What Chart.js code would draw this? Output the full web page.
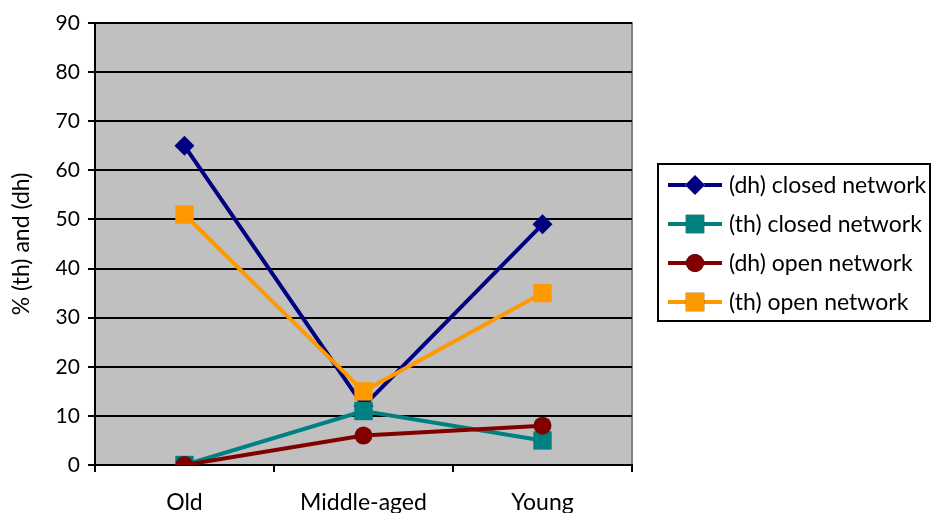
<!DOCTYPE html>
<html>
<head>
<meta charset="utf-8">
<script src="https://cdn.jsdelivr.net/npm/chart.js@4/dist/chart.umd.min.js"></script>
<style>
  html, body { margin: 0; padding: 0; background: #ffffff; }
  #wrap { position: relative; width: 932px; height: 513px; }
</style>
</head>
<body>
<div id="wrap"><canvas id="c" width="932" height="513"></canvas></div>
<script>
// Age groups along the x axis
const categories = ['Old', 'Middle-aged', 'Young'];

// Percentages per series
const dhClosed = [65, 12, 49];
const thClosed = [0, 11, 5];
const dhOpen   = [0, 6, 8];
const thOpen   = [51, 15, 35];

const seriesNames = ['(dh) closed network', '(th) closed network', '(dh) open network', '(th) open network'];

const FONT = 'Lato, "Open Sans", sans-serif';
const TEXT_SIZE = 23;
const NUM_SIZE = 21;

// Grey plot area with a grey frame
const plotBackground = {
  id: 'plotBackground',
  beforeDraw(chart) {
    const { ctx, chartArea: a } = chart;
    ctx.save();
    ctx.fillStyle = '#c0c0c0';
    ctx.fillRect(a.left, a.top, a.right - a.left, a.bottom - a.top);
    ctx.strokeStyle = '#808080';
    ctx.lineWidth = 2;
    ctx.strokeRect(a.left, a.top, a.right - a.left, a.bottom - a.top);
    ctx.restore();
  }
};

// Boxed legend on the right: line sample with the series marker
const boxedLegend = {
  id: 'boxedLegend',
  afterDraw(chart) {
    const { ctx } = chart;
    const x0 = 658, y0 = 164, w = 272, h = 157;
    ctx.save();
    ctx.fillStyle = '#ffffff';
    ctx.fillRect(x0, y0, w, h);
    ctx.strokeStyle = '#000000';
    ctx.lineWidth = 2;
    ctx.strokeRect(x0, y0, w, h);
    const rowH = 39, firstY = 185;
    chart.data.datasets.forEach((ds, i) => {
      const y = firstY + i * rowH;
      ctx.strokeStyle = ds.borderColor;
      ctx.lineWidth = ds.borderWidth;
      ctx.beginPath();
      ctx.moveTo(668, y);
      ctx.lineTo(722, y);
      ctx.stroke();
      Chart.helpers.drawPoint(ctx, {
        pointStyle: ds.pointStyle,
        radius: ds.pointRadius,
        borderWidth: 0
      }, 695, y);
      ctx.fillStyle = ds.pointBackgroundColor;
      ctx.fill();
      ctx.fillStyle = '#000000';
      ctx.font = TEXT_SIZE + 'px ' + FONT;
      ctx.textBaseline = 'middle';
      ctx.textAlign = 'left';
      ctx.fillText(ds.label, 729, y + 1);
    });
    ctx.restore();
  }
};

function series(label, data, color, style, radius, order) {
  return {
    label, data, order,
    borderColor: color,
    backgroundColor: color,
    pointBackgroundColor: color,
    pointBorderColor: color,
    pointBorderWidth: 0,
    borderWidth: 4,
    pointStyle: style,
    pointRadius: radius,
    pointHoverRadius: radius,
    tension: 0
  };
}

new Chart(document.getElementById('c'), {
  type: 'line',
  data: {
    labels: categories,
    datasets: [
      series(seriesNames[0], dhClosed, '#000080', 'rectRot', 10, 4),
      series(seriesNames[1], thClosed, '#008080', 'rect', 13, 3),
      series(seriesNames[2], dhOpen, '#800000', 'circle', 9, 2),
      series(seriesNames[3], thOpen, '#ff9900', 'rect', 13, 1)
    ]
  },
  options: {
    responsive: false,
    animation: false,
    layout: { padding: { top: 23, right: 300, bottom: 0, left: 8 } },
    plugins: { legend: { display: false }, tooltip: { enabled: false } },
    scales: {
      x: {
        offset: true,
        afterFit(scale) { scale.height = 48; },
        grid: {
          display: true,
          offset: true,
          drawOnChartArea: false,
          drawTicks: true,
          tickLength: 7,
          color: '#000000',
          lineWidth: 2
        },
        border: { display: true, color: '#000000', width: 2 },
        ticks: { color: '#000000', font: { family: FONT, size: TEXT_SIZE }, padding: 17, maxRotation: 0 }
      },
      y: {
        min: 0, max: 90,
        grid: { color: '#000000', lineWidth: 2, tickLength: 7 },
        border: { display: true, color: '#000000', width: 2 },
        ticks: { stepSize: 10, color: '#000000', font: { family: FONT, size: NUM_SIZE }, padding: 8 },
        title: { display: true, text: '% (th) and (dh)', color: '#000000', font: { family: FONT, size: TEXT_SIZE }, padding: { top: 0, bottom: 12 } }
      }
    }
  },
  plugins: [plotBackground, boxedLegend]
});
</script>
</body>
</html>
